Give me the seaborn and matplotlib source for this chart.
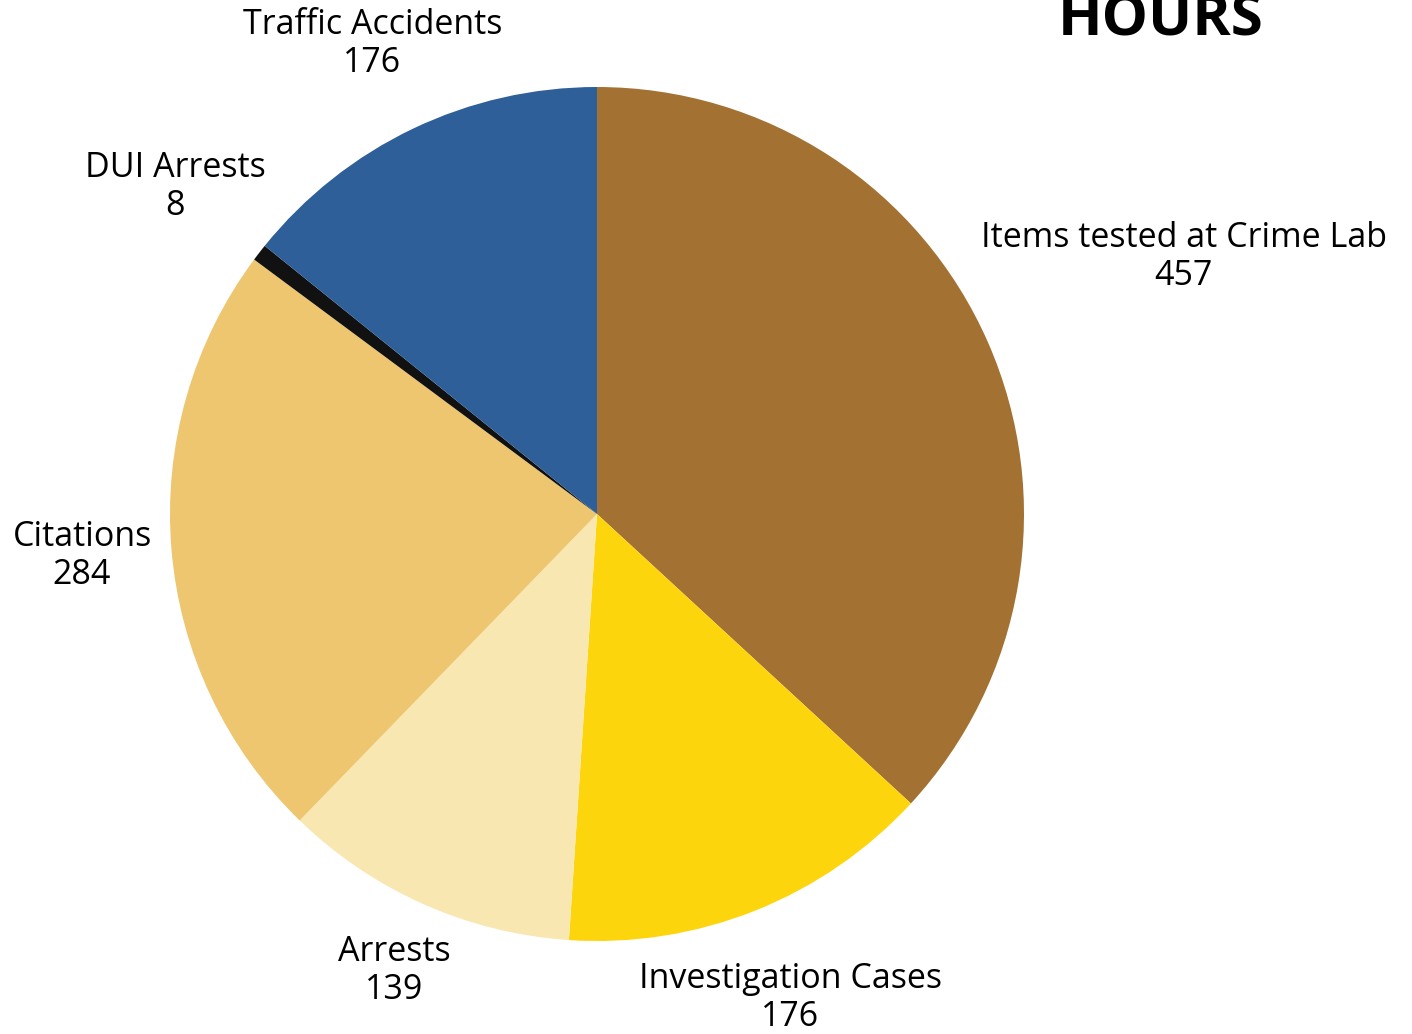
import numpy as np
import matplotlib.pyplot as plt
import seaborn as sns

# Data ........................................................................

categories = ["Items tested at Crime Lab", "Investigation Cases", "Arrests",
              "Citations", "DUI Arrests", "Traffic Accidents"]
hours = [457, 176, 139, 284, 8, 176]
colors = ["#A37232", "#FDD50D", "#F9E7B2", "#EDC66F", "#111111", "#2E5F98"]

# Label distance from centre (in radii), per wedge
label_dist = [1.50, 1.22, 1.17, 1.21, 1.25, 1.22]

# Plot ........................................................................

sns.set_style("white")
plt.rcParams["font.family"] = ["Open Sans", "DejaVu Sans"]
plt.rcParams["text.color"] = "black"

fig = plt.figure(figsize = (14.12, 10.34), dpi = 100)
ax = fig.add_axes([170 / 1412, 93 / 1034, 854 / 1412, 854 / 1034])

wedges, _ = ax.pie(hours, colors = colors, startangle = 90, counterclock = False,
                   radius = 1, wedgeprops = dict(linewidth = 0))
ax.set_xlim(-1, 1)
ax.set_ylim(-1, 1)
ax.set_aspect("equal")
ax.axis("off")

# Labels along each wedge's middle angle
for w, name, val, d in zip(wedges, categories, hours, label_dist):
    ang = np.deg2rad((w.theta1 + w.theta2) / 2)
    ax.text(d * np.cos(ang), d * np.sin(ang), f"{name}\n{val}",
            ha = "center", va = "center", fontsize = 24.5, linespacing = 1.15,
            color = "black", clip_on = False)

fig.text(1161 / 1412, 1 - 20 / 1034, "HOURS", ha = "center", va = "center",
         fontsize = 42, fontweight = "bold", color = "black")

plt.savefig("out.png", dpi = 100)
